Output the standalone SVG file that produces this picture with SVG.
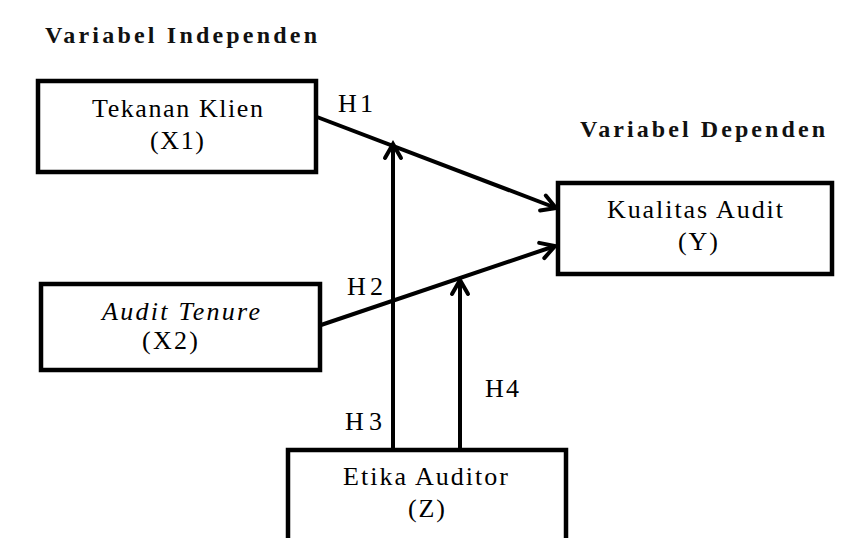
<svg xmlns="http://www.w3.org/2000/svg" width="859" height="538" viewBox="0 0 859 538">
  <style>
    .box { fill: #ffffff; stroke: #000000; stroke-width: 4.5; }
    .t { font-family: "Liberation Serif", "Times New Roman", serif; font-size: 26px; fill: #000000; }
    .h { font-family: "Liberation Serif", "Times New Roman", serif; font-size: 24px; font-weight: bold; fill: #111111; }
    .lbl { font-family: "Liberation Serif", "Times New Roman", serif; font-size: 26px; fill: #000000; }
    .conn { stroke: #000000; stroke-width: 4; fill: none; marker-end: url(#arr); }
  </style>
  <defs>
    <marker id="arr" markerUnits="userSpaceOnUse" markerWidth="24" markerHeight="24" refX="18" refY="10" orient="auto" overflow="visible">
      <path d="M4,2 L18,10 L4,18" fill="none" stroke="#000000" stroke-width="4" stroke-linecap="round" stroke-linejoin="miter"/>
    </marker>
  </defs>
  <rect width="859" height="538" fill="#ffffff"/>

  <text class="h" x="45" y="43" textLength="272" lengthAdjust="spacing">Variabel Independen</text>
  <text class="h" x="580" y="137" textLength="245" lengthAdjust="spacing">Variabel Dependen</text>

  <g id="connectors">
    <line class="conn" x1="317" y1="117" x2="556" y2="208"/>
    <line class="conn" x1="321" y1="325" x2="555" y2="246"/>
    <line class="conn" x1="393" y1="450" x2="393" y2="144"/>
    <line class="conn" x1="460" y1="450" x2="460" y2="280"/>
    <text class="lbl" x="338" y="112" textLength="35" lengthAdjust="spacing">H1</text>
    <text class="lbl" x="347" y="295" textLength="36" lengthAdjust="spacing">H2</text>
    <text class="lbl" x="345" y="430" textLength="37" lengthAdjust="spacing">H3</text>
    <text class="lbl" x="485" y="397" textLength="34" lengthAdjust="spacing">H4</text>
  </g>

  <g id="x1">
    <rect class="box" x="38" y="81" width="278" height="91"/>
    <text class="t" x="92" y="117" textLength="171" lengthAdjust="spacing">Tekanan Klien</text>
    <text class="t" x="150" y="149" textLength="54" lengthAdjust="spacing">(X1)</text>
  </g>

  <g id="x2">
    <rect class="box" x="41" y="284" width="279" height="86"/>
    <text class="t" x="102" y="320" font-style="italic" textLength="158" lengthAdjust="spacing">Audit Tenure</text>
    <text class="t" x="142" y="349" textLength="56" lengthAdjust="spacing">(X2)</text>
  </g>

  <g id="y">
    <rect class="box" x="558" y="183" width="274" height="91"/>
    <text class="t" x="607" y="218" textLength="176" lengthAdjust="spacing">Kualitas Audit</text>
    <text class="t" x="678" y="250" textLength="40" lengthAdjust="spacing">(Y)</text>
  </g>

  <g id="z">
    <rect class="box" x="288" y="450" width="278" height="100"/>
    <text class="t" x="343" y="485" textLength="165" lengthAdjust="spacing">Etika Auditor</text>
    <text class="t" x="408" y="517" textLength="37" lengthAdjust="spacing">(Z)</text>
  </g>
</svg>
